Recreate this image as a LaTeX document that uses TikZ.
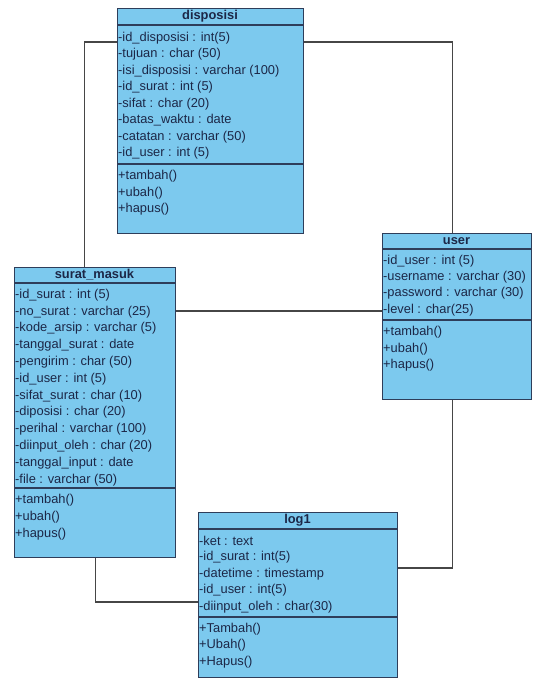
\documentclass[tikz,border=0pt]{standalone}
\usepackage{fontspec}
\setmainfont{Liberation Sans}
\usetikzlibrary{positioning}
\definecolor{clsfill}{HTML}{7CC9EE}
\definecolor{clsline}{HTML}{2E3D5A}
\definecolor{clstext}{HTML}{1C2747}
\definecolor{conngray}{HTML}{464646}
\tikzset{
  clsbox/.style={draw=clsline, fill=clsfill, line width=1.3pt, inner sep=0pt, anchor=north west},
  clsrule/.style={draw=clsline, line width=1.3pt},
  clsname/.style={font=\fontsize{12.9}{15}\selectfont\bfseries, text=clstext, inner sep=0pt},
  attr/.style={font=\fontsize{12.9}{15}\selectfont, text=clstext, inner sep=0pt, anchor=west},
  conn/.style={draw=conngray, line width=1.2pt},
}
\begin{document}
\begin{tikzpicture}[x=1bp,y=-1bp]
  \useasboundingbox (0,0) rectangle (535,679);
  % disposisi
  \node[clsbox, minimum width=186bp, minimum height=225bp] (disposisi) at (117,8) {};
  \node[clsname] (dpname) at (210,16.5) {disposisi};
  \draw[clsrule] (117,25) -- (303,25);
  \node[attr] (dp1) at (118,38) {-id\_disposisi : int(5)};
  \node[attr] (dp2) at (118,54.5) {-tujuan : char (50)};
  \node[attr] (dp3) at (118,71) {-isi\_disposisi : varchar (100)};
  \node[attr] (dp4) at (118,87.5) {-id\_surat : int (5)};
  \node[attr] (dp5) at (118,104) {-sifat : char (20)};
  \node[attr] (dp6) at (118,120.5) {-batas\_waktu : date};
  \node[attr] (dp7) at (118,137) {-catatan : varchar (50)};
  \node[attr] (dp8) at (118,153.5) {-id\_user : int (5)};
  \draw[clsrule] (117,164) -- (303,164);
  \node[attr] (dpm1) at (118,176.5) {+tambah()};
  \node[attr] (dpm2) at (118,193) {+ubah()};
  \node[attr] (dpm3) at (118,209.5) {+hapus()};
  % user
  \node[clsbox, minimum width=149bp, minimum height=166bp] (user) at (382,233) {};
  \node[clsname] (usname) at (456.5,241) {user};
  \draw[clsrule] (382,249) -- (531,249);
  \node[attr] (us1) at (383,261) {-id\_user : int (5)};
  \node[attr] (us2) at (383,277.3) {-username : varchar (30)};
  \node[attr] (us3) at (383,293.6) {-password : varchar (30)};
  \node[attr] (us4) at (383,309.9) {-level : char(25)};
  \draw[clsrule] (382,320) -- (531,320);
  \node[attr] (usm1) at (383,332.5) {+tambah()};
  \node[attr] (usm2) at (383,349) {+ubah()};
  \node[attr] (usm3) at (383,365.5) {+hapus()};
  % surat_masuk
  \node[clsbox, minimum width=161bp, minimum height=290bp] (masuk) at (14,267) {};
  \node[clsname] (smname) at (94.5,275) {surat\_masuk};
  \draw[clsrule] (14,283) -- (175,283);
  \node[attr] (sm1) at (15,295) {-id\_surat : int (5)};
  \node[attr] (sm2) at (15,311.8) {-no\_surat : varchar (25)};
  \node[attr] (sm3) at (15,328.6) {-kode\_arsip : varchar (5)};
  \node[attr] (sm4) at (15,345.4) {-tanggal\_surat : date};
  \node[attr] (sm5) at (15,362.2) {-pengirim : char (50)};
  \node[attr] (sm6) at (15,379) {-id\_user : int (5)};
  \node[attr] (sm7) at (15,395.8) {-sifat\_surat : char (10)};
  \node[attr] (sm8) at (15,412.6) {-diposisi : char (20)};
  \node[attr] (sm9) at (15,429.4) {-perihal : varchar (100)};
  \node[attr] (sm10) at (15,446.2) {-diinput\_oleh : char (20)};
  \node[attr] (sm11) at (15,463) {-tanggal\_input : date};
  \node[attr] (sm12) at (15,479.8) {-file : varchar (50)};
  \draw[clsrule] (14,488) -- (175,488);
  \node[attr] (smm1) at (15,500) {+tambah()};
  \node[attr] (smm2) at (15,517) {+ubah()};
  \node[attr] (smm3) at (15,534) {+hapus()};
  % log1
  \node[clsbox, minimum width=199bp, minimum height=165bp] (log) at (198,512) {};
  \node[clsname] (lgname) at (297.5,520) {log1};
  \draw[clsrule] (198,529) -- (397,529);
  \node[attr] (lg1) at (199,541) {-ket : text};
  \node[attr] (lg2) at (199,557.5) {-id\_surat : int(5)};
  \node[attr] (lg3) at (199,574) {-datetime : timestamp};
  \node[attr] (lg4) at (199,590.5) {-id\_user : int(5)};
  \node[attr] (lg5) at (199,607) {-diinput\_oleh : char(30)};
  \draw[clsrule] (198,617) -- (397,617);
  \node[attr] (lgm1) at (199,629) {+Tambah()};
  \node[attr] (lgm2) at (199,645.5) {+Ubah()};
  \node[attr] (lgm3) at (199,662) {+Hapus()};
  % relations
  \draw[conn] (disposisi.east |- 0,42) -| ([xshift=-4.5bp]user.north);
  \draw[conn] (disposisi.west |- 0,42) -| ([xshift=-10.5bp]masuk.north);
  \draw[conn] (masuk.east |- 0,311) -- (user.west |- 0,311);
  \draw[conn] (masuk.south) |- (log.west |- 0,602);
  \draw[conn] (log.east |- 0,568) -| ([xshift=-4.5bp]user.south);
\end{tikzpicture}
\end{document}
